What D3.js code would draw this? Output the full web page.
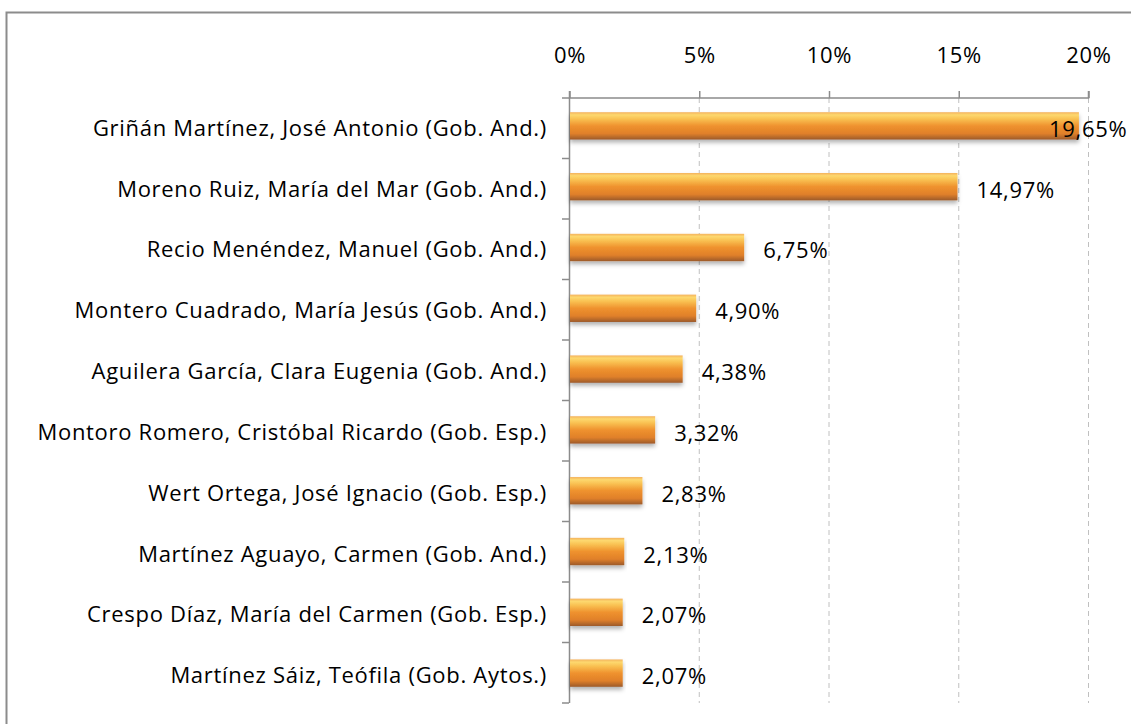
<!DOCTYPE html>
<html>
<head>
<meta charset="utf-8">
<script src="https://cdn.jsdelivr.net/npm/d3@7"></script>
<style>
  body { margin: 0; background: #fff; }
  svg text { font-family: "Open Sans", sans-serif; fill: #000; letter-spacing: 0.7px; }
</style>
</head>
<body>
<svg id="chart" width="1131" height="724"></svg>
<script>
const names = [
  "Griñán Martínez, José Antonio (Gob. And.)",
  "Moreno Ruiz, María del Mar (Gob. And.)",
  "Recio Menéndez, Manuel (Gob. And.)",
  "Montero Cuadrado, María Jesús (Gob. And.)",
  "Aguilera García, Clara Eugenia (Gob. And.)",
  "Montoro Romero, Cristóbal Ricardo (Gob. Esp.)",
  "Wert Ortega, José Ignacio (Gob. Esp.)",
  "Martínez Aguayo, Carmen (Gob. And.)",
  "Crespo Díaz, María del Carmen (Gob. Esp.)",
  "Martínez Sáiz, Teófila (Gob. Aytos.)"
];
const shares = [19.65, 14.97, 6.75, 4.90, 4.38, 3.32, 2.83, 2.13, 2.07, 2.07];
const xTicks = [0, 5, 10, 15, 20];

const svg = d3.select("#chart");
const plotLeft = 569, plotRight = 1088, plotTop = 98, plotBottom = 703;
const fontSize = 22;

// frame
svg.append("rect")
  .attr("x", 6.5).attr("y", 12.5)
  .attr("width", 1140).attr("height", 730)
  .attr("fill", "none").attr("stroke", "#8c8c8c").attr("stroke-width", 2);

const x = d3.scaleLinear().domain([0, 20]).range([plotLeft, plotRight]);
const y = d3.scaleBand().domain(names).range([plotTop, plotBottom]).paddingInner(0.55).paddingOuter(0.25);

const defs = svg.append("defs");
const grad = defs.append("linearGradient").attr("id", "barGrad")
  .attr("x1", 0).attr("y1", 0).attr("x2", 0).attr("y2", 1);
[[0, "#f4b25e"], [0.1, "#fdd86e"], [0.25, "#f9c051"], [0.5, "#ef922e"], [0.78, "#e0802a"], [1, "#9c5a2c"]]
  .forEach(s => grad.append("stop").attr("offset", s[0]).attr("stop-color", s[1]));
const shadow = defs.append("filter").attr("id", "shadow")
  .attr("x", "-5%").attr("y", "-20%").attr("width", "110%").attr("height", "160%");
shadow.append("feDropShadow").attr("dx", 0).attr("dy", 3).attr("stdDeviation", 2)
  .attr("flood-color", "#000").attr("flood-opacity", 0.3);

// dashed gridlines
svg.append("g").selectAll("line")
  .data(xTicks.slice(1))
  .join("line")
  .attr("x1", d => x(d) + 0.5).attr("x2", d => x(d) + 0.5)
  .attr("y1", plotTop).attr("y2", plotBottom)
  .attr("stroke", "#c0c0c0").attr("stroke-dasharray", "5,4");

// top axis
const xAxis = d3.axisTop(x).tickValues(xTicks).tickFormat(d => d + "%").tickSize(7).tickPadding(28);
const gx = svg.append("g").attr("transform", `translate(0.5,${plotTop})`).call(xAxis);
gx.select(".domain").attr("stroke", "#8c8c8c").attr("d", `M${plotLeft},-7V0H${plotRight}V-7`).attr("stroke-width", 1.5);
gx.selectAll(".tick line").attr("stroke", "#8c8c8c").attr("stroke-width", 1.5);
gx.selectAll(".tick text").attr("font-size", fontSize).attr("font-family", "'Open Sans', sans-serif").attr("fill", "#000");

// left axis
const step = (plotBottom - plotTop) / names.length;
const gy = svg.append("g");
gy.append("line").attr("x1", plotLeft + 0.5).attr("x2", plotLeft + 0.5).attr("y1", plotTop).attr("y2", plotBottom)
  .attr("stroke", "#8c8c8c").attr("stroke-width", 1.5);
gy.selectAll("line.tk").data(d3.range(names.length + 1)).join("line").attr("class", "tk")
  .attr("x1", plotLeft - 7).attr("x2", plotLeft).attr("y1", i => plotTop + i * step).attr("y2", i => plotTop + i * step)
  .attr("stroke", "#8c8c8c").attr("stroke-width", 1.5);
gy.selectAll("text").data(names).join("text")
  .attr("x", 547).attr("y", d => y(d) + y.bandwidth() / 2 + 9)
  .attr("text-anchor", "end")
  .attr("font-size", fontSize).text(d => d);

// bars
svg.append("g").selectAll("rect")
  .data(names)
  .join("rect")
  .attr("x", plotLeft + 1)
  .attr("y", d => y(d) - 1)
  .attr("width", (d, i) => x(shares[i]) - plotLeft - 1)
  .attr("height", y.bandwidth())
  .attr("fill", "url(#barGrad)")
  .attr("filter", "url(#shadow)");

// value labels (the largest one is pulled back inside the picture)
svg.append("g").selectAll("text")
  .data(names)
  .join("text")
  .attr("x", (d, i) => Math.min(x(shares[i]) + 19, 1049))
  .attr("y", d => y(d) + y.bandwidth() / 2 + 10)
  .attr("font-size", fontSize)
  .text((d, i) => shares[i].toFixed(2).replace(".", ",") + "%");
</script>
</body>
</html>
